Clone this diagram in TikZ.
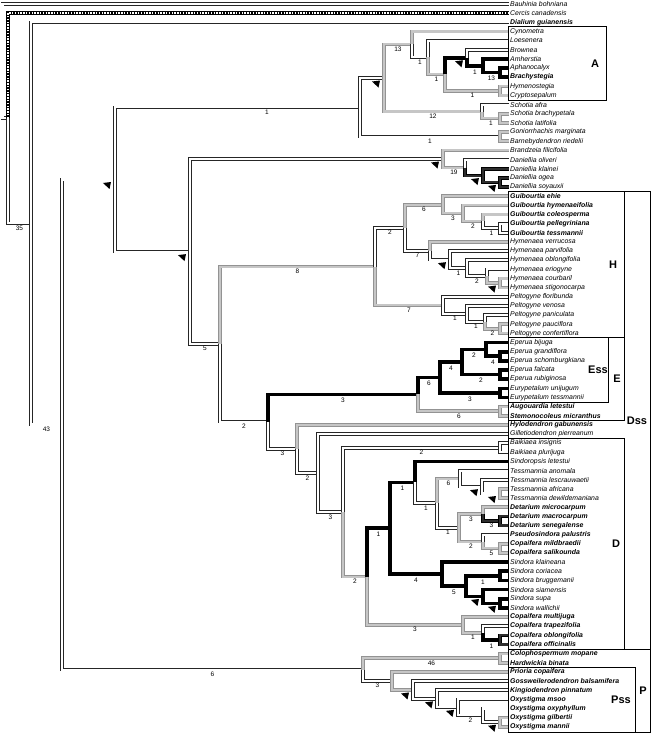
\documentclass[tikz,border=0pt]{standalone}
\usepackage{fontspec}
\setmainfont{Liberation Sans}
\usetikzlibrary{positioning}

\begin{document}
\begin{tikzpicture}[x=1pt, y=-9.15pt,
  tip/.style={anchor=west, inner sep=1pt, font=\fontsize{6.9}{7}\selectfont\itshape},
  tipb/.style={tip, font=\fontsize{6.9}{7}\selectfont\bfseries\itshape},
  br/.style={draw=black!85, line width=0.75pt, double=white, double distance=2.1pt},
  gr/.style={draw=gray!85, line width=0.75pt, double=gray!45, double distance=2.1pt},
  dk/.style={draw=black, line width=0.75pt, double=gray!35!black, double distance=2.1pt},
  bk/.style={draw=black, line width=3.6pt},
  chk/.style={draw=white, line width=2pt, dash pattern=on 1.4pt off 1.4pt, preaction={draw=black, line width=3.6pt, solid}},
  lab/.style={pos=0.75, below=1.6pt, inner sep=0.4pt, font=\fontsize{6.5}{6.5}\selectfont},
  clade/.style={draw, line width=1pt},
  cladename/.style={font=\fontsize{11}{12}\selectfont\bfseries}]
\path[use as bounding box, fill=white] (0,0.5628) rectangle (654,81.22);

% tips
\node[tip]  (bau) at (509,1) {Bauhinia bohniana};
\node[tip]  (cer) at (509,2) {Cercis canadensis};
\node[tipb] (dia) at (509,3) {Dialium guianensis};
\node[tip]  (cyn) at (509,4) {Cynometra};
\node[tip]  (loe) at (509,5) {Loesenera};
\node[tip]  (bro) at (509,6) {Brownea};
\node[tip]  (amh) at (509,7) {Amherstia};
\node[tip]  (aph) at (509,8) {Aphanocalyx};
\node[tipb] (bra) at (509,9) {Brachystegia};
\node[tip]  (hym) at (509,10) {Hymenostegia};
\node[tip]  (cry) at (509,11) {Cryptosepalum};
\node[tip]  (saf) at (509,12) {Schotia afra};
\node[tip]  (sbr) at (509,13) {Schotia brachypetala};
\node[tip]  (sla) at (509,14) {Schotia latifolia};
\node[tip]  (gmr) at (509,15) {Goniorrhachis marginata};
\node[tip]  (bar) at (509,16) {Barnebydendron riedelii};
\node[tip]  (bdz) at (509,17) {Brandzeia filicifolia};
\node[tip]  (dol) at (509,18) {Daniellia oliveri};
\node[tip]  (dkl) at (509,19) {Daniellia klainei};
\node[tip]  (dog) at (509,20) {Daniellia ogea};
\node[tip]  (dso) at (509,21) {Daniellia soyauxii};
\node[tipb] (geh) at (509,22) {Guibourtia ehie};
\node[tipb] (ghy) at (509,23) {Guibourtia hymenaeifolia};
\node[tipb] (gco) at (509,24) {Guibourtia coleosperma};
\node[tipb] (gpe) at (509,25) {Guibourtia pellegriniana};
\node[tipb] (gte) at (509,26) {Guibourtia tessmannii};
\node[tip]  (hve) at (509,27) {Hymenaea verrucosa};
\node[tip]  (hpa) at (509,28) {Hymenaea parvifolia};
\node[tip]  (hob) at (509,29) {Hymenaea oblongifolia};
\node[tip]  (her) at (509,30) {Hymenaea eriogyne};
\node[tip]  (hco) at (509,31) {Hymenaea courbaril};
\node[tip]  (hst) at (509,32) {Hymenaea stigonocarpa};
\node[tip]  (pfl) at (509,33) {Peltogyne floribunda};
\node[tip]  (pve) at (509,34) {Peltogyne venosa};
\node[tip]  (ppa) at (509,35) {Peltogyne paniculata};
\node[tip]  (ppc) at (509,36) {Peltogyne pauciflora};
\node[tip]  (pco) at (509,37) {Peltogyne confertiflora};
\node[tip]  (ebi) at (509,38) {Eperua bijuga};
\node[tip]  (egr) at (509,39) {Eperua grandiflora};
\node[tip]  (esc) at (509,40) {Eperua schomburgkiana};
\node[tip]  (efa) at (509,41) {Eperua falcata};
\node[tip]  (eru) at (509,42) {Eperua rubiginosa};
\node[tip]  (eun) at (509,43) {Eurypetalum unijugum};
\node[tip]  (ete) at (509,44) {Eurypetalum tessmannii};
\node[tipb] (aug) at (509,45) {Augouardia letestui};
\node[tipb] (ste) at (509,46) {Stemonocoleus micranthus};
\node[tipb] (hyl) at (509,47) {Hylodendron gabunensis};
\node[tip]  (gil) at (509,48) {Gilletiodendron pierreanum};
\node[tip]  (bin) at (509,49) {Baikiaea insignis};
\node[tip]  (bpl) at (509,50) {Baikiaea plurijuga};
\node[tip]  (sle) at (509,51) {Sindoropsis letestui};
\node[tip]  (tan) at (509,52) {Tessmannia anomala};
\node[tip]  (tle) at (509,53) {Tessmannia lescrauwaetii};
\node[tip]  (taf) at (509,54) {Tessmannia africana};
\node[tip]  (tde) at (509,55) {Tessmannia dewildemaniana};
\node[tipb] (dmi) at (509,56) {Detarium microcarpum};
\node[tipb] (dma) at (509,57) {Detarium macrocarpum};
\node[tipb] (dse) at (509,58) {Detarium senegalense};
\node[tipb] (pse) at (509,59) {Pseudosindora palustris};
\node[tipb] (cmi) at (509,60) {Copaifera mildbraedii};
\node[tipb] (csa) at (509,61) {Copaifera salikounda};
\node[tip]  (skl) at (509,62) {Sindora klaineana};
\node[tip]  (sco) at (509,63) {Sindora coriacea};
\node[tip]  (sbg) at (509,64) {Sindora bruggemanii};
\node[tip]  (ssi) at (509,65) {Sindora siamensis};
\node[tip]  (ssu) at (509,66) {Sindora supa};
\node[tip]  (swa) at (509,67) {Sindora wallichii};
\node[tipb] (cmu) at (509,68) {Copaifera multijuga};
\node[tipb] (ctr) at (509,69) {Copaifera trapezifolia};
\node[tipb] (cob) at (509,70) {Copaifera oblongifolia};
\node[tipb] (cof) at (509,71) {Copaifera officinalis};
\node[tipb] (col) at (509,72) {Colophospermum mopane};
\node[tipb] (har) at (509,73) {Hardwickia binata};
\node[tipb] (pri) at (509,74) {Prioria copaifera};
\node[tipb] (gos) at (509,75) {Gossweilerodendron balsamifera};
\node[tipb] (kin) at (509,76) {Kingiodendron pinnatum};
\node[tipb] (oms) at (509,77) {Oxystigma msoo};
\node[tipb] (oox) at (509,78) {Oxystigma oxyphyllum};
\node[tipb] (ogi) at (509,79) {Oxystigma gilbertii};
\node[tipb] (oma) at (509,80) {Oxystigma mannii};

% internal nodes
\coordinate (n0) at (2.5,7.25);
\coordinate (n1) at (8,13.49);
\coordinate (n2) at (31,24.98);
\coordinate (n3) at (62,46.96);
\coordinate (n4) at (115,20.18);
\coordinate (n5) at (190,28.06);
\coordinate (n6) at (220,38.17);
\coordinate (n7) at (268,46.65);
\coordinate (n8) at (297,49.64);
\coordinate (n9) at (318,52.27);
\coordinate (n10) at (343,56.54);
\coordinate (n11) at (367,63.59);
\coordinate (n12) at (390,58.3);
\coordinate (n13) at (415,53.28);
\coordinate (n14) at (437,55.56);
\coordinate (n15) at (459,58.25);
\coordinate (a0) at (360,12.3);
\coordinate (a1) at (384,9.09);
\coordinate (a2) at (412,5.42);
\coordinate (a3) at (428,6.84);
\coordinate (a4) at (445,8.69);
\coordinate (a5) at (467,6.875);
\coordinate (a6) at (483,7.75);
\coordinate (a7) at (500,8.5);
\coordinate (ahc) at (500,10.5);
\coordinate (s1) at (482,12.75);
\coordinate (s2) at (500,13.5);
\coordinate (gb) at (500,15.5);
\coordinate (d0) at (443,17.94);
\coordinate (d1) at (465,18.875);
\coordinate (d2) at (483,19.75);
\coordinate (d3) at (500,20.5);
\coordinate (h0) at (375,29.7);
\coordinate (gh) at (405,25.45);
\coordinate (g1) at (443,22.94);
\coordinate (g2) at (463,23.875);
\coordinate (g3) at (483,24.75);
\coordinate (g4) at (500,25.5);
\coordinate (y1) at (430,27.97);
\coordinate (y2) at (450,28.94);
\coordinate (y3) at (467,29.875);
\coordinate (y4) at (487,30.75);
\coordinate (y5) at (500,31.5);
\coordinate (p1) at (443,33.94);
\coordinate (p2) at (467,34.875);
\coordinate (p3) at (485,35.75);
\coordinate (p4) at (500,36.5);
\coordinate (e0) at (418,43.66);
\coordinate (e1) at (440,41.81);
\coordinate (e2) at (462,40.125);
\coordinate (e3) at (486,38.75);
\coordinate (e4) at (500,41.5);
\coordinate (e5) at (500,39.5);
\coordinate (e6) at (500,43.5);
\coordinate (e7) at (500,45.5);
\coordinate (bai) at (500,49.5);
\coordinate (t1) at (460,52.875);
\coordinate (t2) at (482,53.75);
\coordinate (t3) at (500,54.5);
\coordinate (dt) at (483,56.75);
\coordinate (dtp) at (500,57.5);
\coordinate (ps) at (483,59.75);
\coordinate (psp) at (500,60.5);
\coordinate (se) at (442,63.31);
\coordinate (sd) at (466,64.625);
\coordinate (sa) at (500,63.5);
\coordinate (sc) at (483,65.75);
\coordinate (sb) at (500,66.5);
\coordinate (c1) at (463,68.875);
\coordinate (c2) at (483,69.75);
\coordinate (c3) at (500,70.5);
\coordinate (pp) at (363,73.74);
\coordinate (cp) at (500,72.5);
\coordinate (pr) at (392,74.98);
\coordinate (o0) at (413,75.97);
\coordinate (o1) at (437,76.94);
\coordinate (o2) at (458,77.875);
\coordinate (o3) at (483,78.75);
\coordinate (o4) at (500,79.5);

% backbone
\draw[br] (n0) |- (bau.west) (n0) |- (n1);
\draw[chk] (n1) |- (cer.west);
\draw[br] (n1) |- node[lab]{35} (n2);
\draw[br] (n2) |- (dia.west);
\draw[br] (n2) |- node[lab]{43} (n3);
\draw[br] (n3) |- (n4);
\draw[br] (n3) |- node[lab]{6} (pp);
\draw[br] (n4) |- node[lab, pos=0.81]{1} (a0);
\draw[br] (n4) |- (n5);

% Amherstieae
\draw[br] (a0) |- (a1);
\draw[br] (a0) |- node[lab]{1} (gb);
\draw[gr] (gb) |- (gmr.west) (gb) |- (bar.west);
\draw[gr] (a1) |- node[lab]{13} (a2);
\draw[gr] (a1) |- node[lab]{12} (s1);
\draw[gr] (a2) |- (cyn.west);
\draw[br] (a2) |- node[lab]{1} (a3);
\draw[br] (a3) |- (loe.west);
\draw[gr] (a3) |- node[lab]{1} (a4);
\draw[gr] (a4) |- node[lab]{1} (ahc);
\draw[bk] (a4) |- (a5);
\draw[br] (a5) |- (bro.west);
\draw[bk] (a5) |- node[lab]{1} (a6);
\draw[bk] (a6) |- (amh.west) (a6) |- node[lab]{13} (a7);
\draw[bk] (a7) |- (aph.west) (a7) |- (bra.west);
\draw[gr] (ahc) |- (hym.west) (ahc) |- (cry.west);
\draw[br] (s1) |- (saf.west);
\draw[gr] (s1) |- node[lab]{1} (s2);
\draw[gr] (s2) |- (sbr.west) (s2) |- (sla.west);

% Daniellia
\draw[br] (n5) |- (d0);
\draw[br] (n5) |- node[lab]{5} (n6);
\draw[gr] (d0) |- (bdz.west) (d0) |- node[lab]{19} (d1);
\draw[br] (d1) |- (dol.west);
\draw[dk] (d1) |- (d2);
\draw[dk] (d2) |- (dkl.west) (d2) |- (d3);
\draw[dk] (d3) |- (dog.west) (d3) |- (dso.west);

% Guibourtia, Hymenaea, Peltogyne
\draw[gr] (n6) |- node[lab]{8} (h0);
\draw[br] (n6) |- node[lab]{2} (n7);
\draw[br] (h0) |- node[lab]{2} (gh);
\draw[gr] (h0) |- node[lab]{7} (p1);
\draw[gr] (gh) |- node[lab]{6} (g1);
\draw[br] (gh) |- node[lab]{7} (y1);
\draw[gr] (g1) |- (geh.west) (g1) |- node[lab]{3} (g2);
\draw[gr] (g2) |- (ghy.west) (g2) |- node[lab]{2} (g3);
\draw[gr] (g3) |- (gco.west);
\draw[br] (g3) |- node[lab]{1} (g4);
\draw[br] (g4) |- (gpe.west) (g4) |- (gte.west);
\draw[gr] (y1) |- (hve.west);
\draw[br] (y1) |- (y2);
\draw[br] (y2) |- (hpa.west) (y2) |- node[lab]{1} (y3);
\draw[br] (y3) |- (hob.west) (y3) |- node[lab]{2} (y4);
\draw[br] (y4) |- (her.west);
\draw[gr] (y4) |- (y5);
\draw[gr] (y5) |- (hco.west) (y5) |- (hst.west);
\draw[br] (p1) |- (pfl.west) (p1) |- node[lab]{1} (p2);
\draw[br] (p2) |- (pve.west) (p2) |- node[lab]{1} (p3);
\draw[br] (p3) |- (ppa.west);
\draw[gr] (p3) |- node[lab]{2} (p4);
\draw[gr] (p4) |- (ppc.west) (p4) |- (pco.west);

% Eperua and allies
\draw[bk] (n7) |- node[lab]{3} (e0);
\draw[br] (n7) |- node[lab]{3} (n8);
\draw[bk] (e0) |- node[lab]{6} (e1);
\draw[gr] (e0) |- node[lab]{6} (e7);
\draw[gr] (e7) |- (aug.west) (e7) |- (ste.west);
\draw[bk] (e1) |- node[lab]{4} (e2) (e1) |- node[lab]{3} (e6);
\draw[bk] (e6) |- (eun.west) (e6) |- (ete.west);
\draw[bk] (e2) |- node[lab]{2} (e3) (e2) |- node[lab]{2} (e4);
\draw[bk] (e4) |- (efa.west) (e4) |- (eru.west);
\draw[bk] (e3) |- (ebi.west) (e3) |- node[lab]{4} (e5);
\draw[bk] (e5) |- (egr.west) (e5) |- (esc.west);

% Detarieae s.s.
\draw[gr] (n8) |- (hyl.west);
\draw[br] (n8) |- node[lab]{2} (n9);
\draw[br] (n9) |- (gil.west) (n9) |- node[lab]{3} (n10);
\draw[br] (n10) |- node[lab]{2} (bai);
\draw[br] (bai) |- (bin.west) (bai) |- (bpl.west);
\draw[gr] (n10) |- node[lab]{2} (n11);
\draw[bk] (n11) |- node[lab]{1} (n12);
\draw[gr] (n11) |- node[lab]{3} (c1);
\draw[bk] (n12) |- node[lab]{1} (n13) (n12) |- node[lab]{4} (se);
\draw[bk] (n13) |- (sle.west);
\draw[br] (n13) |- node[lab]{1} (n14);
\draw[gr] (n14) |- node[lab]{6} (t1);
\draw[br] (n14) |- node[lab]{1} (n15);
\draw[br] (t1) |- (tan.west) (t1) |- (t2);
\draw[br] (t2) |- (tle.west) (t2) |- (t3);
\draw[gr] (t3) |- (taf.west) (t3) |- (tde.west);
\draw[gr] (n15) |- node[lab]{3} (dt) (n15) |- node[lab]{2} (ps);
\draw[gr] (dt) |- (dmi.west);
\draw[dk] (dt) |- node[lab]{3} (dtp);
\draw[dk] (dtp) |- (dma.west) (dtp) |- (dse.west);
\draw[br] (ps) |- (pse.west);
\draw[gr] (ps) |- node[lab]{5} (psp);
\draw[gr] (psp) |- (cmi.west) (psp) |- (csa.west);
\draw[bk] (se) |- (skl.west) (se) |- node[lab]{5} (sd);
\draw[bk] (sd) |- node[lab]{1} (sa) (sd) |- (sc);
\draw[bk] (sa) |- (sco.west) (sa) |- (sbg.west);
\draw[bk] (sc) |- (ssi.west) (sc) |- (sb);
\draw[bk] (sb) |- (ssu.west) (sb) |- (swa.west);
\draw[gr] (c1) |- (cmu.west) (c1) |- node[lab]{1} (c2);
\draw[br] (c2) |- (ctr.west);
\draw[bk] (c2) |- node[lab]{1} (c3);
\draw[dk] (c3) |- (cob.west) (c3) |- (cof.west);

% Prioria clade
\draw[gr] (pp) |- node[lab]{46} (cp);
\draw[gr] (cp) |- (col.west) (cp) |- (har.west);
\draw[br] (pp) |- node[lab]{3} (pr);
\draw[gr] (pr) |- (pri.west) (pr) |- (o0);
\draw[br] (o0) |- (gos.west) (o0) |- (o1);
\draw[br] (o1) |- (kin.west) (o1) |- (o2);
\draw[br] (o2) |- (oms.west) (o2) |- node[lab]{2} (o3);
\draw[br] (o3) |- (oox.west) (o3) |- (o4);
\draw[gr] (o4) |- (ogi.west) (o4) |- (oma.west);

% character change flags
\foreach \n in {n4,n5,a1,a5,d0,d2,d3,y2,y5,t2,t3,sc,sb,o0,o1,o2,o4}
  \fill[shift={(\n)}] (-12pt,-3.5pt) -- (-4pt,-2.5pt) -- (-5.5pt,-9.5pt) -- cycle;

% clade boxes
\draw[clade] (508.5,3.5) rectangle (607,11.5);
\node[cladename] at (595,7.5) {A};
\draw[clade] (508.5,21.5) rectangle (651,71.5);
\node[cladename] at (637,46.5) {Dss};
\draw[clade] (508.5,21.5) rectangle (625,37.5);
\node[cladename] at (613,29.5) {H};
\draw[clade] (508.5,37.5) rectangle (625,46.5);
\node[cladename] at (617,42) {E};
\draw[clade] (508.5,37.5) rectangle (609,44.5);
\node[cladename] at (598,41) {Ess};
\draw[clade] (508.5,48.5) rectangle (625,71.5);
\node[cladename] at (616,60) {D};
\draw[clade] (508.5,71.5) rectangle (651,80.6);
\node[cladename] at (643,76) {P};
\draw[clade] (508.5,73.5) rectangle (636,80.6);
\node[cladename] at (621,77.05) {Pss};
\end{tikzpicture}
\end{document}
